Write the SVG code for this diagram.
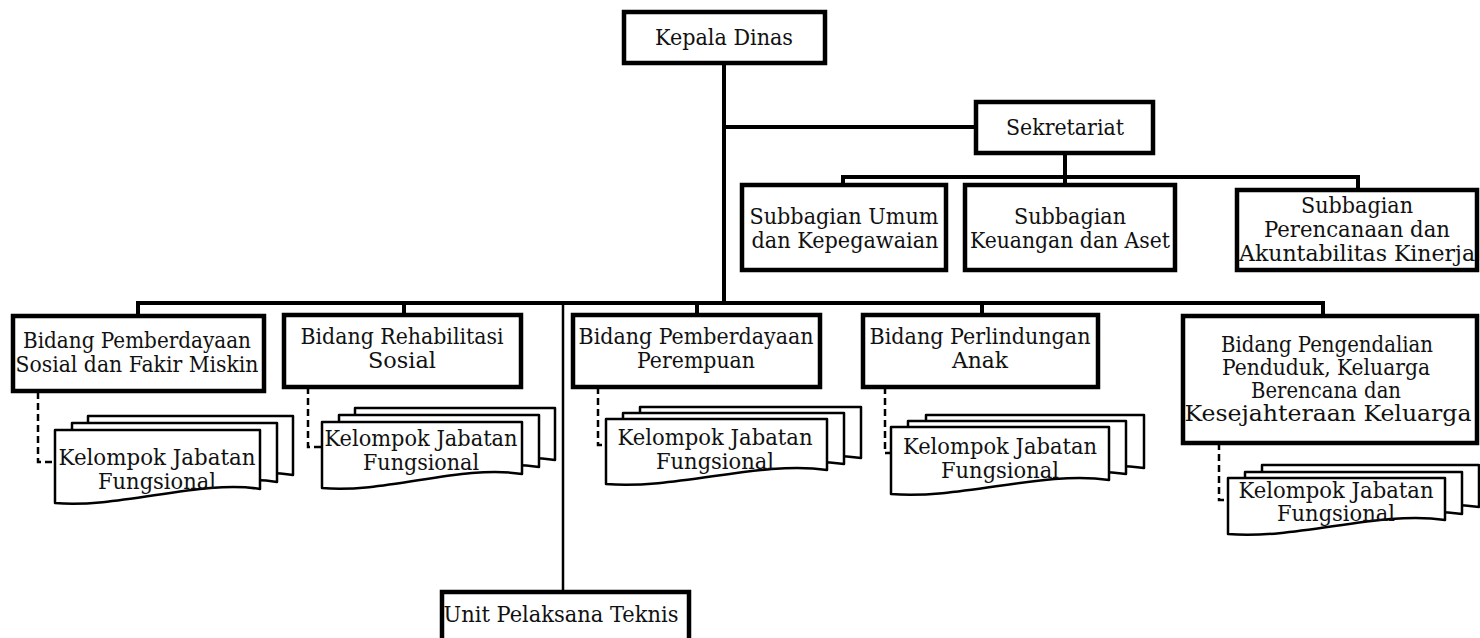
<svg xmlns="http://www.w3.org/2000/svg" width="1480" height="638" viewBox="0 0 1480 638">
<style>
.box{fill:#fff;stroke:#000;stroke-width:4.5}
.ln{fill:none;stroke:#000;stroke-width:4}
.ln2{fill:none;stroke:#000;stroke-width:2.5}
.dash{fill:none;stroke:#000;stroke-width:2.5;stroke-dasharray:7 4}
.doc{fill:#fff;stroke:#000;stroke-width:2.5;stroke-linejoin:round}
text{font-family:"DejaVu Serif","Liberation Serif",serif;font-size:22px;text-anchor:middle;fill:#111}
</style>
<rect width="1480" height="638" fill="#fff"/>
<g id="connectors">
<path class="ln" d="M724,63 V303"/>
<path class="ln" d="M724,127 H976"/>
<path class="ln" d="M1065,153 V185"/>
<path class="ln" d="M843,185 V177 H1358 V190"/>
<path class="ln" d="M138,315 V303 H1323 V316"/>
<path class="ln" d="M404,303 V315"/>
<path class="ln" d="M697,303 V315"/>
<path class="ln" d="M982,303 V315"/>
<path class="ln2" d="M563,303 V592"/>
<path class="dash" d="M38,392 V462 H55"/>
<path class="dash" d="M308,387 V447 H322"/>
<path class="dash" d="M598,387 V445 H606"/>
<path class="dash" d="M885,387 V453 H891"/>
<path class="dash" d="M1219,443 V500 H1228"/>
</g>
<g id="kepala-dinas">
<rect class="box" x="624" y="12" width="201" height="51"/>
<text x="724" y="45" textLength="138" lengthAdjust="spacingAndGlyphs">Kepala Dinas</text>
</g>
<g id="sekretariat">
<rect class="box" x="976" y="102" width="177" height="51"/>
<text x="1065" y="135" textLength="118" lengthAdjust="spacingAndGlyphs">Sekretariat</text>
</g>
<g id="subbagian-umum">
<rect class="box" x="742" y="185" width="204" height="85"/>
<text x="844" y="224" textLength="189" lengthAdjust="spacingAndGlyphs">Subbagian Umum</text>
<text x="845" y="248" textLength="187" lengthAdjust="spacingAndGlyphs">dan Kepegawaian</text>
</g>
<g id="subbagian-keuangan">
<rect class="box" x="965" y="185" width="210" height="85"/>
<text x="1070" y="224" textLength="112" lengthAdjust="spacingAndGlyphs">Subbagian</text>
<text x="1070" y="248" textLength="200" lengthAdjust="spacingAndGlyphs">Keuangan dan Aset</text>
</g>
<g id="subbagian-perencanaan">
<rect class="box" x="1237" y="190" width="240" height="80"/>
<text x="1357" y="213" textLength="112" lengthAdjust="spacingAndGlyphs">Subbagian</text>
<text x="1357" y="237" textLength="186" lengthAdjust="spacingAndGlyphs">Perencanaan dan</text>
<text x="1357" y="261" textLength="236" lengthAdjust="spacingAndGlyphs">Akuntabilitas Kinerja</text>
</g>
<g id="bidang-pemberdayaan-sosial">
<rect class="box" x="13" y="316" width="251" height="75"/>
<text x="137" y="348" textLength="228" lengthAdjust="spacingAndGlyphs">Bidang Pemberdayaan</text>
<text x="137" y="372" textLength="243" lengthAdjust="spacingAndGlyphs">Sosial dan Fakir Miskin</text>
</g>
<g id="bidang-rehabilitasi">
<rect class="box" x="284" y="315" width="237" height="72"/>
<text x="402" y="344" textLength="203" lengthAdjust="spacingAndGlyphs">Bidang Rehabilitasi</text>
<text x="402" y="368" textLength="68" lengthAdjust="spacingAndGlyphs">Sosial</text>
</g>
<g id="bidang-perempuan">
<rect class="box" x="573" y="315" width="247" height="72"/>
<text x="696" y="344" textLength="235" lengthAdjust="spacingAndGlyphs">Bidang Pemberdayaan</text>
<text x="696" y="368" textLength="118" lengthAdjust="spacingAndGlyphs">Perempuan</text>
</g>
<g id="bidang-anak">
<rect class="box" x="863" y="315" width="235" height="72"/>
<text x="980" y="344" textLength="221" lengthAdjust="spacingAndGlyphs">Bidang Perlindungan</text>
<text x="980" y="368" textLength="56" lengthAdjust="spacingAndGlyphs">Anak</text>
</g>
<g id="bidang-pengendalian">
<rect class="box" x="1183" y="316" width="294" height="127"/>
<text x="1327" y="352" textLength="212" lengthAdjust="spacingAndGlyphs">Bidang Pengendalian</text>
<text x="1326" y="375" textLength="208" lengthAdjust="spacingAndGlyphs">Penduduk, Keluarga</text>
<text x="1326" y="398" textLength="150" lengthAdjust="spacingAndGlyphs">Berencana dan</text>
<text x="1328" y="421" textLength="287" lengthAdjust="spacingAndGlyphs">Kesejahteraan Keluarga</text>
</g>
<g id="unit-pelaksana-teknis">
<rect class="box" x="442" y="592" width="247" height="60"/>
<text x="561" y="622" textLength="235" lengthAdjust="spacingAndGlyphs">Unit Pelaksana Teknis</text>
</g>
<g id="jf-1">
<path class="doc" d="M88,416 H293 V475 C236,465 154,495 88,489 Z"/>
<path class="doc" d="M72,423 H277 V482 C220,472 138,502 72,496 Z"/>
<path class="doc" d="M55,430 H260 V489 C203,479 117,509 55,503 Z"/>
<text x="157" y="465" textLength="197" lengthAdjust="spacingAndGlyphs">Kelompok Jabatan</text>
<text x="157" y="489" textLength="118" lengthAdjust="spacingAndGlyphs">Fungsional</text>
</g>
<g id="jf-2">
<path class="doc" d="M355,408 H555 V460 C495,450 418,480 355,474 Z"/>
<path class="doc" d="M339,415 H539 V467 C479,457 402,487 339,481 Z"/>
<path class="doc" d="M322,422 H522 V474 C462,464 385,494 322,488 Z"/>
<text x="421" y="446" textLength="193" lengthAdjust="spacingAndGlyphs">Kelompok Jabatan</text>
<text x="421" y="470" textLength="116" lengthAdjust="spacingAndGlyphs">Fungsional</text>
</g>
<g id="jf-3">
<path class="doc" d="M640,407 H861 V458 C795,448 710,478 640,472 Z"/>
<path class="doc" d="M623,413 H844 V464 C778,454 693,484 623,478 Z"/>
<path class="doc" d="M606,419 H827 V470 C761,460 676,490 606,484 Z"/>
<text x="715" y="445" textLength="195" lengthAdjust="spacingAndGlyphs">Kelompok Jabatan</text>
<text x="715" y="469" textLength="118" lengthAdjust="spacingAndGlyphs">Fungsional</text>
</g>
<g id="jf-4">
<path class="doc" d="M926,415 H1144 V468 C1079,458 995,488 926,482 Z"/>
<path class="doc" d="M908,421 H1126 V474 C1061,464 977,494 908,488 Z"/>
<path class="doc" d="M891,427 H1109 V480 C1044,470 960,500 891,494 Z"/>
<text x="1000" y="454" textLength="194" lengthAdjust="spacingAndGlyphs">Kelompok Jabatan</text>
<text x="1000" y="478" textLength="118" lengthAdjust="spacingAndGlyphs">Fungsional</text>
</g>
<g id="jf-5">
<path class="doc" d="M1262,465 H1479 V507 C1414,497 1331,527 1262,521 Z"/>
<path class="doc" d="M1245,472 H1462 V514 C1397,504 1314,534 1245,528 Z"/>
<path class="doc" d="M1228,478 H1445 V520 C1380,510 1297,540 1228,534 Z"/>
<text x="1336" y="498" textLength="195" lengthAdjust="spacingAndGlyphs">Kelompok Jabatan</text>
<text x="1336" y="521" textLength="118" lengthAdjust="spacingAndGlyphs">Fungsional</text>
</g>
</svg>
